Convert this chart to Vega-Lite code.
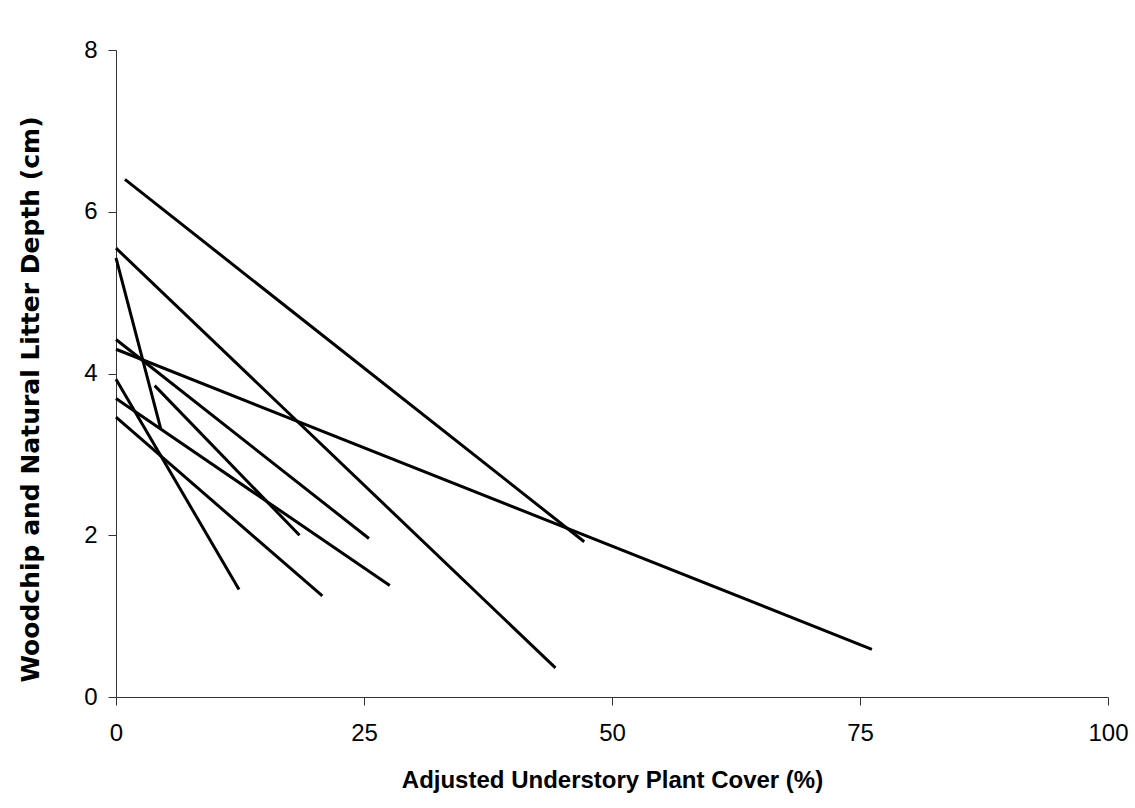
{
  "$schema": "https://vega.github.io/schema/vega-lite/v6.json",
  "width": 992,
  "height": 647,
  "autosize": {"type": "none"},
  "padding": {"left": 116, "top": 50, "right": 27, "bottom": 111},
  "background": "white",
  "config": {
    "view": {"stroke": null},
    "font": "Liberation Sans"
  },
  "data": {
    "values": [
      {"site": "A", "cover": 0.9, "depth": 6.40},
      {"site": "A", "cover": 47.2, "depth": 1.92},
      {"site": "B", "cover": 0.0, "depth": 5.55},
      {"site": "B", "cover": 44.3, "depth": 0.36},
      {"site": "C", "cover": 0.0, "depth": 5.43},
      {"site": "C", "cover": 4.5, "depth": 3.32},
      {"site": "D", "cover": 0.0, "depth": 4.42},
      {"site": "D", "cover": 25.5, "depth": 1.96},
      {"site": "E", "cover": 0.0, "depth": 4.30},
      {"site": "E", "cover": 76.2, "depth": 0.59},
      {"site": "F", "cover": 3.9, "depth": 3.85},
      {"site": "F", "cover": 18.5, "depth": 2.00},
      {"site": "G", "cover": 0.0, "depth": 3.93},
      {"site": "G", "cover": 12.4, "depth": 1.33},
      {"site": "H", "cover": 0.0, "depth": 3.69},
      {"site": "H", "cover": 27.6, "depth": 1.38},
      {"site": "I", "cover": 0.0, "depth": 3.46},
      {"site": "I", "cover": 20.8, "depth": 1.25}
    ]
  },
  "mark": {"type": "line", "color": "black", "strokeWidth": 3},
  "encoding": {
    "detail": {"field": "site", "type": "nominal"},
    "x": {
      "field": "cover",
      "type": "quantitative",
      "scale": {"domain": [0, 100], "nice": false, "zero": true},
      "axis": {
        "title": "Adjusted Understory Plant Cover (%)",
        "values": [0, 25, 50, 75, 100],
        "grid": false,
        "domainColor": "#333333",
        "tickColor": "#333333",
        "tickSize": 8,
        "labelFlush": false,
        "labelFontSize": 24,
        "labelColor": "black",
        "labelPadding": 16,
        "titleFontSize": 24,
        "titleFontWeight": "bold",
        "titleColor": "black",
        "titlePadding": 23
      }
    },
    "y": {
      "field": "depth",
      "type": "quantitative",
      "scale": {"domain": [0, 8], "nice": false},
      "axis": {
        "title": "Woodchip and Natural Litter Depth (cm)",
        "values": [0, 2, 4, 6, 8],
        "grid": false,
        "domainColor": "#333333",
        "tickColor": "#333333",
        "tickSize": 8,
        "labelFlush": false,
        "labelFontSize": 24,
        "labelColor": "black",
        "labelPadding": 11,
        "titleFont": "DejaVu Sans",
        "titleFontSize": 25,
        "titleFontWeight": "bold",
        "titleColor": "black",
        "titlePadding": 40,
        "titleY": 349
      }
    }
  }
}
